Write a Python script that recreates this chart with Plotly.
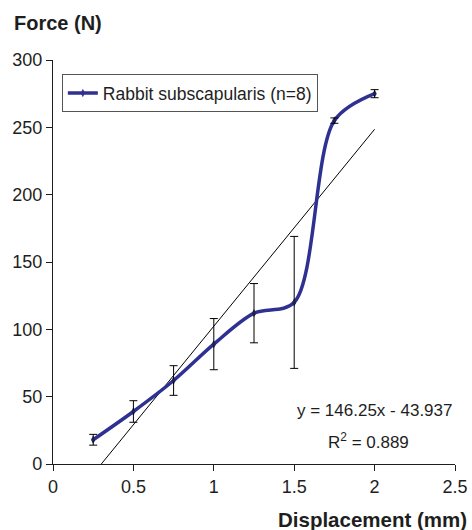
import plotly.graph_objects as go

displacement = [0.25, 0.5, 0.75, 1.0, 1.25, 1.5, 1.75, 2.0]
force = [18, 39, 62, 89, 112, 120, 255, 275]
force_err = [4, 8, 11, 19, 22, 49, 2, 3]
slope, intercept = 146.25, -43.937
trend_x = [0.25, 2.0]
trend_y = [slope * x + intercept for x in trend_x]
x_ticks = [0, 0.5, 1, 1.5, 2, 2.5]
x_labels = ["0", "0.5", "1", "1.5", "2", "2.5"]
y_ticks = [0, 50, 100, 150, 200, 250, 300]

blue = "#2e3192"
ink = "#1e1e1e"
font = "Liberation Sans, Arial, sans-serif"

fig = go.Figure()
fig.add_trace(go.Scatter(
    x=trend_x, y=trend_y, mode="lines",
    line=dict(color="black", width=1), showlegend=False, hoverinfo="skip"))
fig.add_trace(go.Scatter(
    x=displacement, y=force, mode="lines+markers",
    name="Rabbit subscapularis (n=8)",
    line=dict(color=blue, width=3.5, shape="spline", smoothing=0.9),
    marker=dict(symbol="diamond-tall", size=6, color=blue)))
fig.add_trace(go.Scatter(
    x=displacement, y=force, mode="markers",
    marker=dict(symbol="square", size=3, color="#222244"),
    error_y=dict(type="data", array=force_err, color="black", thickness=1, width=4),
    showlegend=False, hoverinfo="skip"))

fig.update_layout(
    width=472, height=530,
    margin=dict(l=53, r=17, t=60, b=66, autoexpand=False),
    paper_bgcolor="white", plot_bgcolor="white",
    font=dict(family=font, size=17, color=ink),
    showlegend=True,
    legend=dict(x=0.022, y=0.965, xanchor="left", yanchor="top",
                bordercolor="#555555", borderwidth=1, bgcolor="white",
                font=dict(size=17.5, color=ink),
                itemwidth=30, tracegroupgap=0),
    xaxis=dict(range=[0, 2.5], tickvals=x_ticks, ticktext=x_labels,
               automargin=False,
               showgrid=False, zeroline=False, showline=True,
               linecolor=ink, linewidth=1.2, ticks="outside",
               ticklen=6, tickcolor=ink,
               tickfont=dict(size=18, family=font, color=ink)),
    yaxis=dict(range=[0, 300], tickvals=y_ticks,
               automargin=False,
               showgrid=False, zeroline=False, showline=True,
               linecolor=ink, linewidth=1.2, ticks="outside",
               ticklen=6, tickcolor=ink,
               tickfont=dict(size=18, family=font, color=ink)),
    annotations=[
        dict(text="<b>Force (N)</b>", xref="paper", yref="paper",
             x=-0.102, y=1.124, xanchor="left", yanchor="top",
             showarrow=False, font=dict(size=20)),
        dict(text="<b>Displacement (mm)</b>", xref="paper", yref="paper",
             x=1.035, y=-0.105, xanchor="right", yanchor="top",
             showarrow=False, font=dict(size=20.5)),
        dict(text="y = 146.25x - 43.937", xref="x", yref="y",
             x=2.0, y=40, showarrow=False, font=dict(size=17)),
        dict(text="R<sup>2</sup> = 0.889", xref="x", yref="y",
             x=1.965, y=17, showarrow=False, font=dict(size=17)),
    ],
)

fig.write_html(
    "out.html",
    config={"displayModeBar": False},
    post_script="document.body.style.margin='0';document.body.style.overflow='hidden';",
)
